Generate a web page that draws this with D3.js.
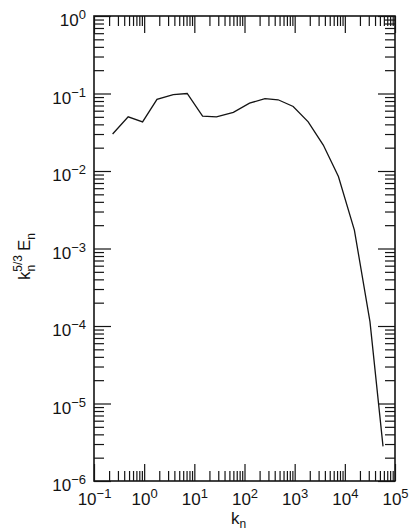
<!DOCTYPE html>
<html>
<head>
<meta charset="utf-8">
<script src="https://cdn.jsdelivr.net/npm/d3@7"></script>
<style>
  body { margin: 0; background: #fff; }
  svg { display: block; font-family: "Liberation Sans", Arial, sans-serif; }
</style>
</head>
<body>
<div id="chart"></div>
<script>
// shell wavenumbers k_n and compensated spectrum k_n^{5/3} E_n
const kn = [0.235, 0.48, 0.93, 1.8, 3.8, 7.2, 14.6, 27.6, 60, 126, 256, 468, 935, 1860, 3720, 7450, 15500, 31700, 57700];
const spectrum = [0.030, 0.050, 0.043, 0.084, 0.097, 0.100, 0.051, 0.050, 0.057, 0.075, 0.086, 0.083, 0.068, 0.043, 0.0216, 0.0085, 0.00173, 0.000114, 0.0000028];

const xExponents = [-1, 0, 1, 2, 3, 4, 5];
const yExponents = [-6, -5, -4, -3, -2, -1, 0];
const xTitle = "k";
const xTitleSub = "n";

const W = 417, H = 531;
const margin = {top: 16, right: 22, bottom: 50, left: 94};
const width = W - margin.left - margin.right;
const height = H - margin.top - margin.bottom;
const ink = "#141414";

const svg = d3.select("#chart").append("svg")
    .attr("width", W)
    .attr("height", H)
  .append("g")
    .attr("transform", "translate(" + margin.left + "," + margin.top + ")");

const x = d3.scaleLog().domain([1e-1, 1e5]).range([0, width]);
const y = d3.scaleLog().domain([1e-6, 1e0]).range([height, 0]);

// minor ticks 2..9 in every decade
const minors = (lo, hi) => {
    const out = [];
    for (let e = lo; e < hi; e++) for (let m = 2; m <= 9; m++) out.push(m * Math.pow(10, e));
    return out;
};
const xMajor = xExponents.map(e => Math.pow(10, e));
const yMajor = yExponents.map(e => Math.pow(10, e));
const xMinor = minors(-1, 5);
const yMinor = minors(-6, 0);

const MAJ = 17, MIN = 10;

function tickAxis(axisFn, scale, values, size, tr) {
    const g = svg.append("g")
        .attr("transform", tr)
        .call(axisFn(scale).tickValues(values).tickSize(size).tickSizeOuter(0).tickFormat(""));
    g.select(".domain").remove();
    g.selectAll(".tick line").attr("stroke", ink).attr("stroke-width", 1.2);
    return g;
}

// bottom / top (ticks pointing inward)
const xb = tickAxis(d3.axisBottom, x, xMajor, -MAJ, "translate(0," + height + ")");
tickAxis(d3.axisBottom, x, xMinor, -MIN, "translate(0," + height + ")");
tickAxis(d3.axisTop, x, xMajor, -MAJ, "translate(0,0)");
tickAxis(d3.axisTop, x, xMinor, -MIN, "translate(0,0)");
// left / right
const yl = tickAxis(d3.axisLeft, y, yMajor, -MAJ, "translate(0,0)");
tickAxis(d3.axisLeft, y, yMinor, -MIN, "translate(0,0)");
tickAxis(d3.axisRight, y, yMajor, -MAJ, "translate(" + width + ",0)");
tickAxis(d3.axisRight, y, yMinor, -MIN, "translate(" + width + ",0)");

// frame
svg.append("rect")
    .attr("width", width)
    .attr("height", height)
    .attr("fill", "none")
    .attr("stroke", ink)
    .attr("stroke-width", 1.6);

const powLabel = (sel, e) => {
    sel.append("tspan").text("10");
    sel.append("tspan").attr("dy", -7).attr("font-size", 13)
        .text(e < 0 ? "\u2212" + (-e) : String(e));
};

// x tick labels
xb.selectAll(".tick").each(function(d, i) {
    const t = d3.select(this).append("text")
        .attr("y", 24)
        .attr("fill", ink)
        .attr("font-size", 17)
        .attr("text-anchor", "middle");
    powLabel(t, xExponents[i]);
});

// y tick labels
yl.selectAll(".tick").each(function(d, i) {
    const t = d3.select(this).append("text")
        .attr("x", -8)
        .attr("y", 9.5)
        .attr("fill", ink)
        .attr("font-size", 17)
        .attr("text-anchor", "end");
    powLabel(t, yExponents[i]);
});

// axis titles
const xt = svg.append("text")
    .attr("x", width / 2 - 6)
    .attr("y", height + 43)
    .attr("fill", ink)
    .attr("font-size", 17)
    .attr("text-anchor", "middle");
xt.append("tspan").text(xTitle);
xt.append("tspan").attr("dy", 4).attr("font-size", 12).text(xTitleSub);

const yt = svg.append("text")
    .attr("transform", "translate(" + (-64) + "," + (height / 2 + 8) + ") rotate(-90)")
    .attr("fill", ink)
    .attr("font-size", 17)
    .attr("text-anchor", "middle");
yt.append("tspan").text("k");
yt.append("tspan").attr("dy", 5).attr("font-size", 12).text("n");
yt.append("tspan").attr("dy", -13).attr("dx", -7).attr("font-size", 12).text("5/3");
yt.append("tspan").attr("dy", 8).attr("dx", 4).text("E");
yt.append("tspan").attr("dy", 5).attr("font-size", 12).text("n");

// spectrum curve
const pts = kn.map((k, i) => [k, spectrum[i]]);
svg.append("path")
    .datum(pts)
    .attr("fill", "none")
    .attr("stroke", ink)
    .attr("stroke-width", 1.3)
    .attr("d", d3.line().x(d => x(d[0])).y(d => y(d[1])));
</script>
</body>
</html>
